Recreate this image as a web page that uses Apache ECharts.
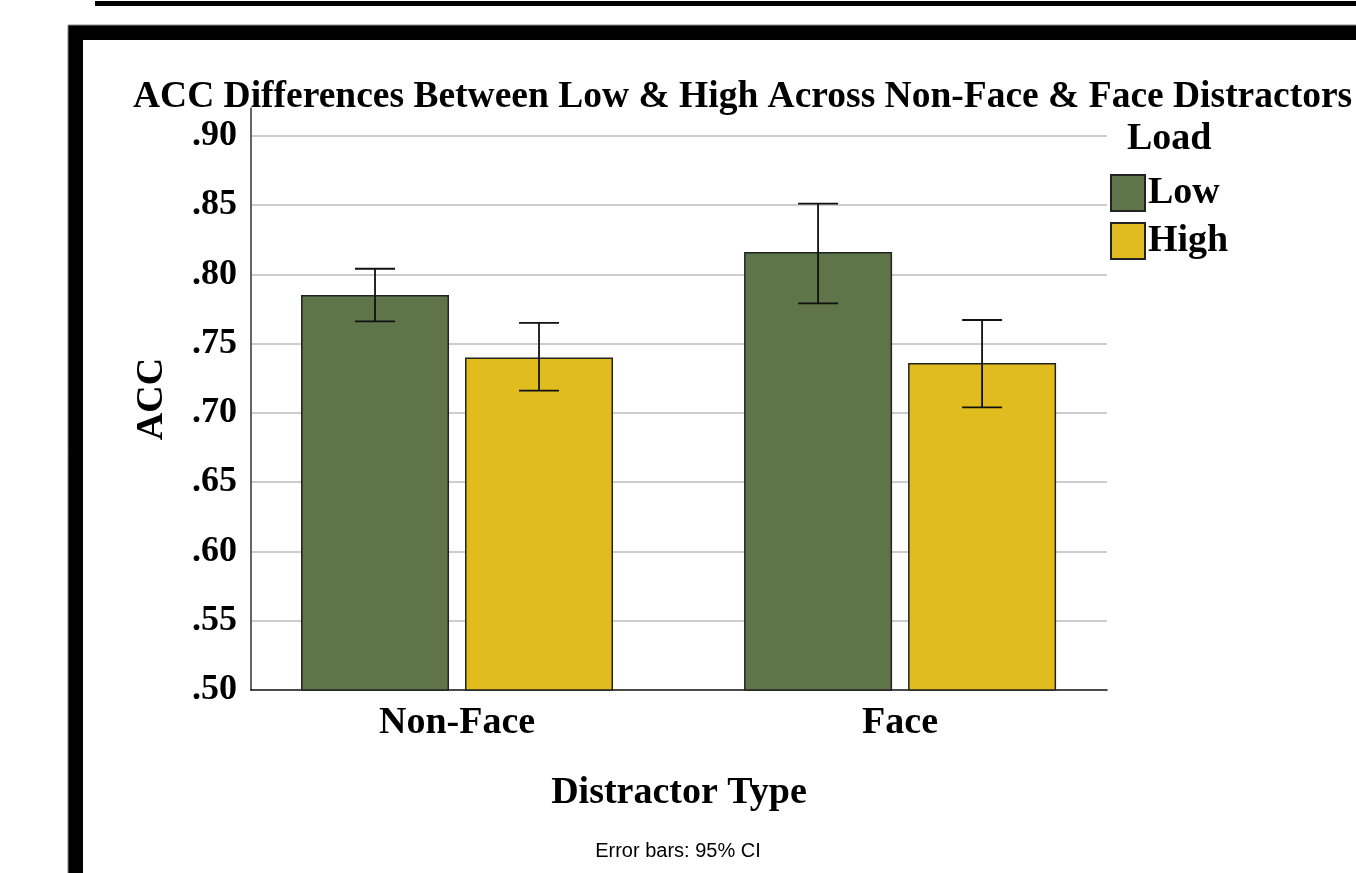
<!DOCTYPE html>
<html>
<head>
<meta charset="utf-8">
<title>ACC Differences Between Low & High</title>
<script src="https://cdn.jsdelivr.net/npm/echarts@6/dist/echarts.min.js"></script>
<style>
  html, body { margin: 0; padding: 0; background: #fff; }
  #chart { width: 1356px; height: 873px; }
</style>
</head>
<body>
<div id="chart"></div>
<script>
// Distractor types (x positions 0 and 1 on the value axis)
const categories = ['Non-Face', 'Face'];
const seriesNames = ['Low', 'High'];

// Mean accuracy per load condition
const lowMeans = [0.785, 0.816];
const highMeans = [0.740, 0.736];

// 95% confidence interval bounds
const lowCiLower = [0.766, 0.779];
const lowCiUpper = [0.804, 0.851];
const highCiLower = [0.716, 0.704];
const highCiUpper = [0.765, 0.767];

// Y axis ticks
const yMin = 0.50;
const yMax = 0.92;
const yStep = 0.05;

const FONT = '"Liberation Serif", "Times New Roman", serif';
const BAR_W = 148;
const BAR_GAP = 16;
const CAP_HALF = 20;
const colors = ['#5E7449', '#E0BC1F'];

const chart = echarts.init(document.getElementById('chart'), null, { renderer: 'canvas' });

function pairData(means) {
  return means.map((v, i) => [i, v]);
}
function ciData(lo, hi) {
  return lo.map((v, i) => [i, v, hi[i]]);
}

// Error bar drawn through the axis scales; dx shifts it onto its bar
function errorBar(dx) {
  return function (params, api) {
    const x = api.value(0);
    const pLo = api.coord([x, api.value(1)]);
    const pHi = api.coord([x, api.value(2)]);
    const cx = pLo[0] + dx;
    const style = { stroke: '#111', lineWidth: 1.8 };
    return {
      type: 'group',
      children: [
        { type: 'line', shape: { x1: cx, y1: pHi[1], x2: cx, y2: pLo[1] }, style },
        { type: 'line', shape: { x1: cx - CAP_HALF, y1: pHi[1], x2: cx + CAP_HALF, y2: pHi[1] }, style },
        { type: 'line', shape: { x1: cx - CAP_HALF, y1: pLo[1], x2: cx + CAP_HALF, y2: pLo[1] }, style }
      ]
    };
  };
}

const offset = BAR_W / 2 + BAR_GAP / 2;

const option = {
  animation: false,
  backgroundColor: '#fff',
  title: {
    text: 'ACC Differences Between Low & High Across Non-Face & Face Distractors',
    left: 133,
    top: 78,
    padding: 0,
    textStyle: { fontFamily: FONT, fontWeight: 'bold', fontSize: 37.5, color: '#000' }
  },
  legend: {
    orient: 'vertical',
    left: 1110,
    top: 174,
    padding: 0,
    icon: 'rect',
    itemWidth: 34,
    itemHeight: 36,
    itemGap: 10,
    data: seriesNames,
    textStyle: { fontFamily: FONT, fontWeight: 'bold', fontSize: 38, color: '#000', padding: [0, 0, 0, -2] }
  },
  graphic: [
    { type: 'rect', z: -10, shape: { x: 95, y: 1, width: 1300, height: 5 }, style: { fill: '#000' } },
    { type: 'rect', z: -10, shape: { x: 68, y: 25, width: 1400, height: 900 }, style: { fill: '#000', stroke: '#888', lineWidth: 1 } },
    { type: 'rect', z: -9, shape: { x: 83, y: 40, width: 1400, height: 900 }, style: { fill: '#fff' } },
    {
      type: 'text', left: 1127, top: 120,
      style: { text: 'Load', font: 'bold 38px ' + FONT, fill: '#000' }
    },
    {
      type: 'text', left: 'center', top: 841,
      style: { text: 'Error bars: 95% CI', font: '20px "Liberation Sans", Arial, sans-serif', fill: '#000' }
    }
  ],
  grid: { left: 251, right: 249, top: 108, bottom: 183, containLabel: false },
  xAxis: {
    type: 'value',
    min: -0.465,
    max: 1.467,
    name: 'Distractor Type',
    nameLocation: 'middle',
    nameGap: 84,
    nameTextStyle: { fontFamily: FONT, fontWeight: 'bold', fontSize: 38, color: '#000' },
    axisLine: { show: true, lineStyle: { color: '#111', width: 1.5 } },
    axisTick: { show: false },
    splitLine: { show: false },
    axisLabel: {
      customValues: [0, 1],
      formatter: v => categories[Math.round(v)],
      margin: 14,
      fontFamily: FONT, fontWeight: 'bold', fontSize: 38, color: '#000'
    }
  },
  yAxis: {
    type: 'value',
    min: yMin,
    max: yMax,
    interval: yStep,
    name: 'ACC',
    nameLocation: 'middle',
    nameGap: 80,
    nameRotate: 90,
    nameTextStyle: { fontFamily: FONT, fontWeight: 'bold', fontSize: 38, color: '#000' },
    axisLine: { show: true, onZero: false, lineStyle: { color: '#333', width: 1.5 } },
    axisTick: { show: false },
    splitLine: { show: true, showMaxLine: false, showMinLine: false, lineStyle: { color: '#bdbdbd', width: 1.5 } },
    axisLabel: {
      showMaxLabel: false,
      margin: 14,
      formatter: v => v.toFixed(2).replace(/^0/, ''),
      fontFamily: FONT, fontWeight: 'bold', fontSize: 36, color: '#000'
    }
  },
  series: [
    {
      name: seriesNames[0], type: 'bar', data: pairData(lowMeans),
      barWidth: BAR_W, barGap: (BAR_GAP / BAR_W * 100) + '%',
      itemStyle: { color: colors[0], borderColor: '#222', borderWidth: 1.5 }
    },
    {
      name: seriesNames[1], type: 'bar', data: pairData(highMeans),
      barWidth: BAR_W, barGap: (BAR_GAP / BAR_W * 100) + '%',
      itemStyle: { color: colors[1], borderColor: '#222', borderWidth: 1.5 }
    },
    {
      type: 'custom', name: 'lowCI', z: 5,
      data: ciData(lowCiLower, lowCiUpper),
      encode: { x: 0, y: [1, 2] },
      renderItem: errorBar(-offset)
    },
    {
      type: 'custom', name: 'highCI', z: 5,
      data: ciData(highCiLower, highCiUpper),
      encode: { x: 0, y: [1, 2] },
      renderItem: errorBar(offset)
    }
  ]
};

chart.setOption(option);
</script>
</body>
</html>
